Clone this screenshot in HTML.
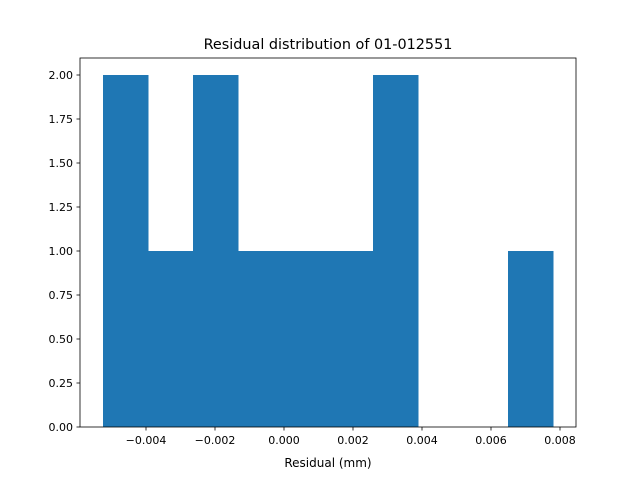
<!DOCTYPE html>
<html><head><meta charset="utf-8"><style>body{margin:0;background:#fff}svg{display:block}text{font-family:"DejaVu Sans","Liberation Sans",sans-serif;fill:#000}</style></head>
<body>
<svg id="chart" width="640" height="480" viewBox="0 0 640 480" xmlns="http://www.w3.org/2000/svg">
<rect x="0" y="0" width="640" height="480" fill="#fff"/>
<text x="328" y="49" font-size="14.4" text-anchor="middle">Residual distribution of 01-012551</text>
<g id="bars" shape-rendering="crispEdges"></g>
<g id="axes"></g>
<text x="328" y="467" font-size="12" text-anchor="middle">Residual (mm)</text>
</svg>
<script>
const binStart = -0.005246;
const binWidth = 0.0013046;
const counts = [2, 1, 2, 1, 1, 1, 2, 0, 0, 1];
const xTicks = [-0.004, -0.002, 0.000, 0.002, 0.004, 0.006, 0.008];
const xTickLabels = ["\u22120.004", "\u22120.002", "0.000", "0.002", "0.004", "0.006", "0.008"];
const yTicks = [0, 0.25, 0.5, 0.75, 1, 1.25, 1.5, 1.75, 2];
const yTickLabels = ["0.00", "0.25", "0.50", "0.75", "1.00", "1.25", "1.50", "1.75", "2.00"];

const NS = "http://www.w3.org/2000/svg";
const L = 80, R = 576, T = 58, B = 427;
const xScale = v => 284 + v * 34500;
const yScale = v => B - v * 176;
const bars = document.getElementById('bars');
const axes = document.getElementById('axes');
function mk(tag, attrs, parent) {
  const e = document.createElementNS(NS, tag);
  for (const k in attrs) e.setAttribute(k, attrs[k]);
  parent.appendChild(e);
  return e;
}
counts.forEach((c, i) => {
  if (c <= 0) return;
  const x0 = xScale(binStart + i * binWidth), x1 = xScale(binStart + (i + 1) * binWidth);
  const r = mk('rect', {x: x0, y: yScale(c), width: x1 - x0 + 0.6, height: B - yScale(c), fill: '#1f77b4'}, bars);
  
  
});
const frame = mk('rect', {x: L, y: T, width: R - L, height: B - T, fill: 'none', stroke: '#000', 'stroke-width': 0.8}, axes);


xTicks.forEach((v, i) => {
  const x = xScale(v);
  mk('line', {x1: x, x2: x, y1: B, y2: B + 3.5, stroke: '#000', 'stroke-width': 0.8}, axes);
  const t = mk('text', {x: x, y: B + 17, 'font-size': 11, 'text-anchor': 'middle'}, axes);
  t.textContent = xTickLabels[i];
  
  
});
yTicks.forEach((v, i) => {
  const y = yScale(v);
  mk('line', {x1: L - 3.5, x2: L, y1: y, y2: y, stroke: '#000', 'stroke-width': 0.8}, axes);
  const t = mk('text', {x: L - 7, y: y + 4, 'font-size': 11, 'text-anchor': 'end'}, axes);
  t.textContent = yTickLabels[i];
  
  
});
</script>
</body></html>
